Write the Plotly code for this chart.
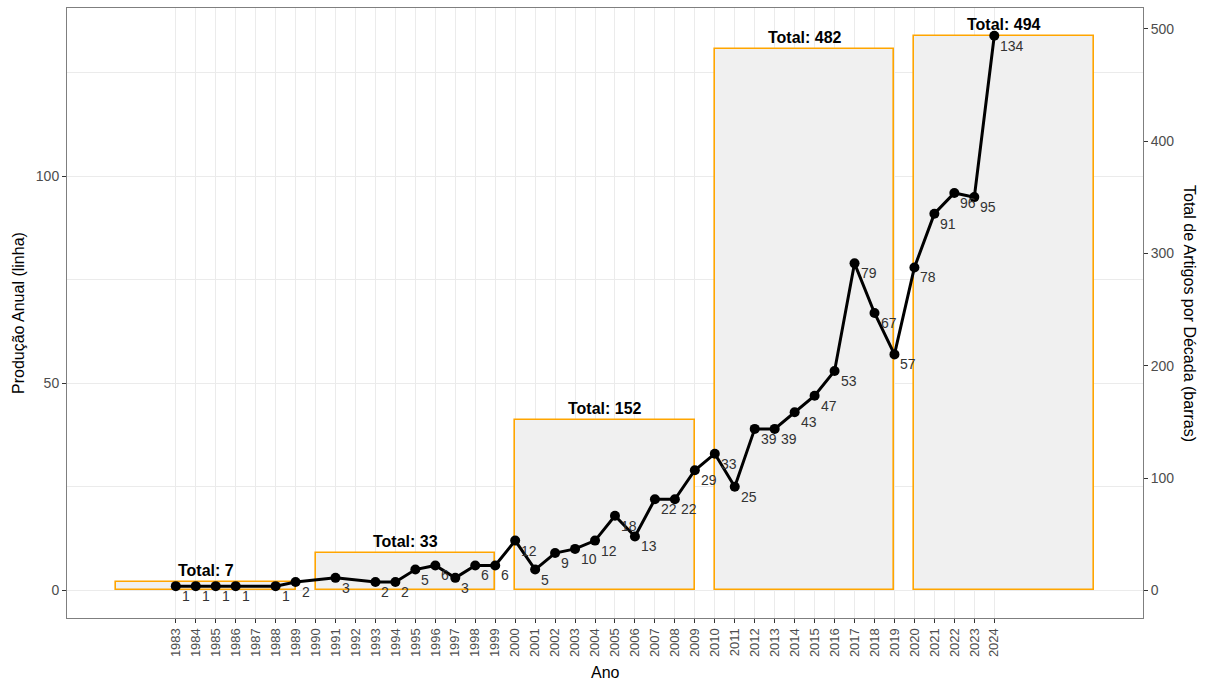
import plotly.graph_objects as go

# annual production (line)
anos = [1983, 1984, 1985, 1986, 1988, 1989, 1991, 1993, 1994, 1995, 1996, 1997,
        1998, 1999, 2000, 2001, 2002, 2003, 2004, 2005, 2006, 2007, 2008, 2009,
        2010, 2011, 2012, 2013, 2014, 2015, 2016, 2017, 2018, 2019, 2020, 2021,
        2022, 2023, 2024]
producao = [1, 1, 1, 1, 1, 2, 3, 2, 2, 5, 6, 3,
            6, 6, 12, 5, 9, 10, 12, 18, 13, 22, 22, 29,
            33, 25, 39, 39, 43, 47, 53, 79, 67, 57, 78, 91,
            96, 95, 134]

# totals per decade (bars)
decadas = [1980, 1990, 2000, 2010, 2020]
totais = [7, 33, 152, 482, 494]

tick_anos = list(range(1983, 2025))
right_ticks = [0, 100, 200, 300, 400, 500]

font_family = "Liberation Sans, Arial, sans-serif"
grid = "#ebebeb"
axis_text = "#4d4d4d"

# scale factor between the two y axes
k = max(totais) / max(producao)

y_lo, y_hi = -6.7, 140.7

fig = go.Figure()

fig.add_trace(go.Bar(x=[d + 4.5 for d in decadas],
                     y=[t / k for t in totais],
                     width=9,
                     marker=dict(color="#f0f0f0", line=dict(color="#FFA500", width=1.6)),
                     showlegend=False,
                     hoverinfo="skip"))

fig.add_trace(go.Scatter(x=anos,
                         y=producao,
                         mode="lines+markers",
                         line=dict(color="black", width=3),
                         marker=dict(color="black", size=10),
                         showlegend=False,
                         cliponaxis=False))

# dummy for the secondary axis
fig.add_trace(go.Scatter(x=[None], y=[None], yaxis="y2", showlegend=False))

# value labels, below right of each point
for a, v in zip(anos, producao):
    fig.add_annotation(x=a, y=v, text=str(v), showarrow=False,
                       xanchor="left", yanchor="middle", xshift=4, yshift=-10,
                       font=dict(size=14, color="#333333", family=font_family))

# decade totals above bars
for d, t in zip(decadas, totais):
    fig.add_annotation(x=d + 4.5, y=t / k, text="<b>Total: {}</b>".format(t), showarrow=False,
                       xanchor="center", yanchor="bottom", yshift=1,
                       font=dict(size=16, color="black", family=font_family))

fig.update_layout(
    width=1212,
    height=680,
    plot_bgcolor="white",
    paper_bgcolor="white",
    margin=dict(l=67, r=69, t=8, b=62),
    font=dict(family=font_family, size=13, color="black"),
    bargap=0,
    xaxis=dict(
        range=[1977.55, 2031.45],
        tickvals=tick_anos,
        ticktext=[str(a) for a in tick_anos],
        tickangle=-90,
        tickfont=dict(size=13, color=axis_text),
        showgrid=True,
        gridcolor=grid,
        gridwidth=1,
        zeroline=False,
        showline=True,
        linecolor="#7f7f7f",
        linewidth=1,
        mirror=True,
        ticks="outside",
        ticklen=4,
        tickcolor="#333333",
        automargin=False,
    ),
    yaxis=dict(
        range=[y_lo, y_hi],
        tickvals=[0, 50, 100],
        tickfont=dict(size=14, color=axis_text),
        showgrid=True,
        gridcolor=grid,
        gridwidth=1,
        minor=dict(tickvals=[25, 75, 125], showgrid=True, gridcolor=grid, gridwidth=1, ticks=""),
        zeroline=False,
        showline=True,
        linecolor="#7f7f7f",
        linewidth=1,
        mirror=True,
        ticks="outside",
        ticklen=4,
        tickcolor="#333333",
        automargin=False,
    ),
    yaxis2=dict(
        overlaying="y",
        side="right",
        range=[y_lo * k, y_hi * k],
        tickvals=right_ticks,
        tickfont=dict(size=14, color=axis_text),
        showgrid=False,
        zeroline=False,
        showline=False,
        ticks="outside",
        ticklen=4,
        tickcolor="#333333",
        automargin=False,
    ),
)

title_font = dict(size=16, color="black", family=font_family)

fig.add_annotation(text="Ano", xref="paper", yref="paper", x=0.5, y=0,
                   yshift=-54, xanchor="center", yanchor="middle", showarrow=False, font=title_font)
fig.add_annotation(text="Produção Anual (linha)", xref="paper", yref="paper",
                   x=0, xshift=-49, y=0.5, xanchor="center", yanchor="middle",
                   textangle=-90, showarrow=False, font=title_font)
fig.add_annotation(text="Total de Artigos por Década (barras)", xref="paper", yref="paper",
                   x=1.0, xshift=47, y=0.5, xanchor="center", yanchor="middle",
                   textangle=90, showarrow=False, font=title_font)

# drop the default page margin so the 1212x680 figure fills the window
fig.write_html("out.html", config={"displayModeBar": False},
               post_script="document.body.style.margin = '0px';")
